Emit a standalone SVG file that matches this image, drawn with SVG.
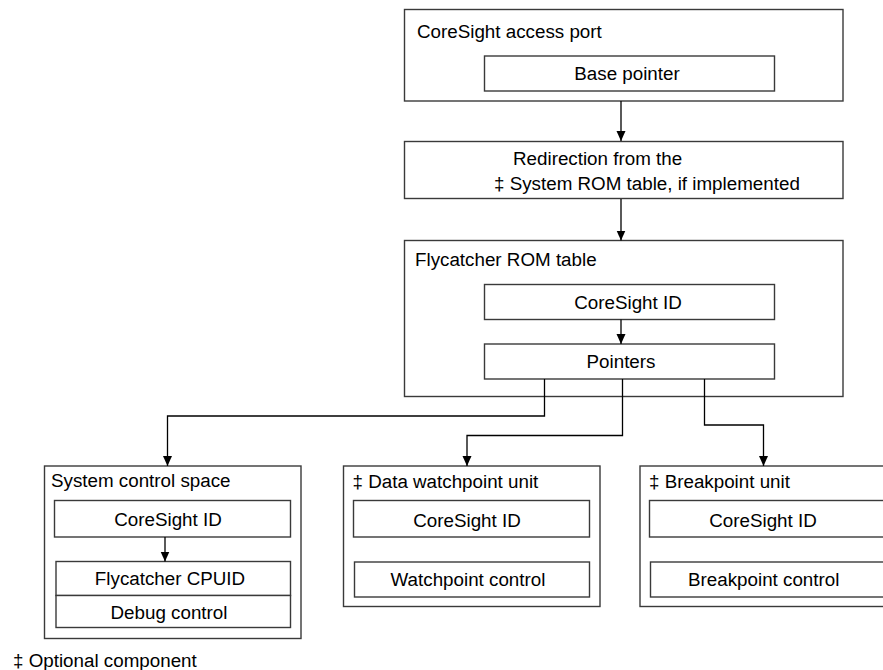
<svg xmlns="http://www.w3.org/2000/svg" width="883" height="670" viewBox="0 0 883 670">
<style>
.box{fill:#fff;stroke:#3a3a3a;stroke-width:1.4}
.in{fill:#fff;stroke:#3a3a3a;stroke-width:1.4}
.t{font-family:"Liberation Sans",Arial,sans-serif;font-size:18.8px;fill:#000}
.c{text-anchor:middle}
.con{fill:none;stroke:#000;stroke-width:1.3}
</style>
<defs>
<marker id="ah" markerWidth="10" markerHeight="12" refX="5" refY="11" orient="auto" markerUnits="userSpaceOnUse" viewBox="0 0 10 12">
<path d="M0,0 L10,0 L5,11 Z" fill="#000" transform="rotate(-90 5 6) translate(0 0)"/>
</marker>
<marker id="arr" markerWidth="10" markerHeight="11" refX="10" refY="4.5" orient="auto" markerUnits="userSpaceOnUse">
<path d="M0,0 L10,4.5 L0,9 Z" fill="#000"/>
</marker>
</defs>
<rect width="883" height="670" fill="#fff"/>

<g id="access-port">
<rect class="box" x="404.5" y="9.5" width="438.5" height="91.5"/>
<text class="t" x="417" y="38">CoreSight access port</text>
<rect class="in" x="484.5" y="56" width="290" height="35"/>
<text class="t c" x="627" y="80">Base pointer</text>
</g>

<g id="redirection">
<rect class="box" x="404.5" y="141.5" width="438.5" height="57"/>
<text class="t" x="513" y="165">Redirection from the</text>
<text class="t" x="494" y="190">‡ System ROM table, if implemented</text>
</g>

<g id="rom-table">
<rect class="box" x="404.5" y="240.5" width="438.5" height="156"/>
<text class="t" x="415" y="266">Flycatcher ROM table</text>
<rect class="in" x="484.5" y="284.5" width="290" height="35"/>
<text class="t c" x="628" y="309">CoreSight ID</text>
<rect class="in" x="484.5" y="344" width="290" height="35"/>
<text class="t c" x="621" y="368">Pointers</text>
</g>

<g id="scs">
<rect class="box" x="44.5" y="466" width="256.5" height="172.5"/>
<text class="t" x="51" y="487">System control space</text>
<rect class="in" x="54.5" y="500.5" width="236" height="36.5"/>
<text class="t c" x="168" y="526">CoreSight ID</text>
<rect class="in" x="56" y="561.5" width="234.5" height="34"/>
<text class="t c" x="170" y="585">Flycatcher CPUID</text>
<rect class="in" x="56" y="595.5" width="234.5" height="32"/>
<text class="t c" x="169" y="619">Debug control</text>
</g>

<g id="dwt">
<rect class="box" x="343.5" y="466" width="256.5" height="140.5"/>
<text class="t" x="352.5" y="488">‡ Data watchpoint unit</text>
<rect class="in" x="353.5" y="500.5" width="236" height="36.5"/>
<text class="t c" x="467" y="527">CoreSight ID</text>
<rect class="in" x="354.5" y="562" width="235" height="35"/>
<text class="t c" x="468" y="586">Watchpoint control</text>
</g>

<g id="bpu">
<rect class="box" x="640" y="466" width="257" height="140.5"/>
<text class="t" x="649" y="488">‡ Breakpoint unit</text>
<rect class="in" x="649.5" y="500.5" width="236" height="36.5"/>
<text class="t c" x="763" y="527">CoreSight ID</text>
<rect class="in" x="650.5" y="562" width="235" height="35"/>
<text class="t" x="688" y="586">Breakpoint control</text>
</g>

<g id="legend">
<text class="t" x="13" y="667">‡ Optional component</text>
</g>

<g id="connectors">
<path class="con" d="M621,101 V141" marker-end="url(#arr)"/>
<path class="con" d="M621,199 V240.5" marker-end="url(#arr)"/>
<path class="con" d="M621,319.5 V344" marker-end="url(#arr)"/>
<path class="con" d="M544.5,379 V416 H167.5 V466" marker-end="url(#arr)"/>
<path class="con" d="M622.5,379 V435.5 H467 V466" marker-end="url(#arr)"/>
<path class="con" d="M704.5,379 V425 H763.5 V466" marker-end="url(#arr)"/>
<path class="con" d="M165,537 V561.5" marker-end="url(#arr)"/>
</g>
</svg>
